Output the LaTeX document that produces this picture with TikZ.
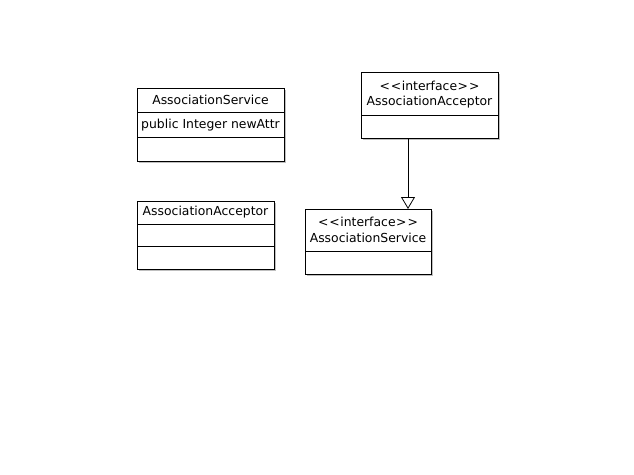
\documentclass[tikz,border=0pt]{standalone}
\usepackage{fontspec}
\setmainfont{DejaVu Sans}
\usetikzlibrary{arrows.meta}
\newcommand{\stereo}[1]{<\kern1pt<\kern0.5pt#1\kern0.5pt>\kern1pt>}
\begin{document}
\begin{tikzpicture}[x=1pt,y=-1pt,
  box/.style={draw=black,line width=0.9pt,fill=white},
  shade/.style={fill=black!25},
  sep/.style={draw=black,line width=0.9pt},
  lbl/.style={inner sep=0pt,font=\fontsize{12.4}{14}\selectfont},
  realize/.style={draw=black,line width=0.8pt,-{Triangle[open,width=14pt,length=12pt]}}]
\useasboundingbox (0,0) rectangle (634,474);
% class AssociationService
\fill[shade] (138.5,89.5) rectangle (285.5,162.5);
\draw[box] (137,88) rectangle (284,161);
\draw[sep] (137,112.5) -- (284,112.5);
\draw[sep] (137,137) -- (284,137);
\node[lbl] (cs) at (210.5,100) {AssociationService};
\node[lbl] (csa) at (210.5,125) {public Integer newAttr};
% class AssociationAcceptor
\fill[shade] (138.5,202.5) rectangle (275.5,270.5);
\draw[box] (137,201) rectangle (274,269);
\draw[sep] (137,224.5) -- (274,224.5);
\draw[sep] (137,246.5) -- (274,246.5);
\node[lbl] (ca) at (205.5,212.5) {AssociationAcceptor};
% interface AssociationAcceptor
\fill[shade] (362.5,73.5) rectangle (499.5,139.5);
\draw[box] (361,72) rectangle (498,138);
\draw[sep] (361,115) -- (498,115);
\node[lbl] (ia1) at (429.5,86) {\stereo{interface}};
\node[lbl] (ia) at (429.5,102) {AssociationAcceptor};
\coordinate (iabot) at (408,138);
% interface AssociationService
\fill[shade] (306.5,210.5) rectangle (432.5,275.5);
\draw[box] (305,209) rectangle (431,274);
\draw[sep] (305,251) -- (431,251);
\node[lbl] (is1) at (368,222) {\stereo{interface}};
\node[lbl] (is) at (368,238) {AssociationService};
\coordinate (istop) at (408,209);
% realization arrow
\draw[realize] (iabot) -- (istop);
\end{tikzpicture}
\end{document}
